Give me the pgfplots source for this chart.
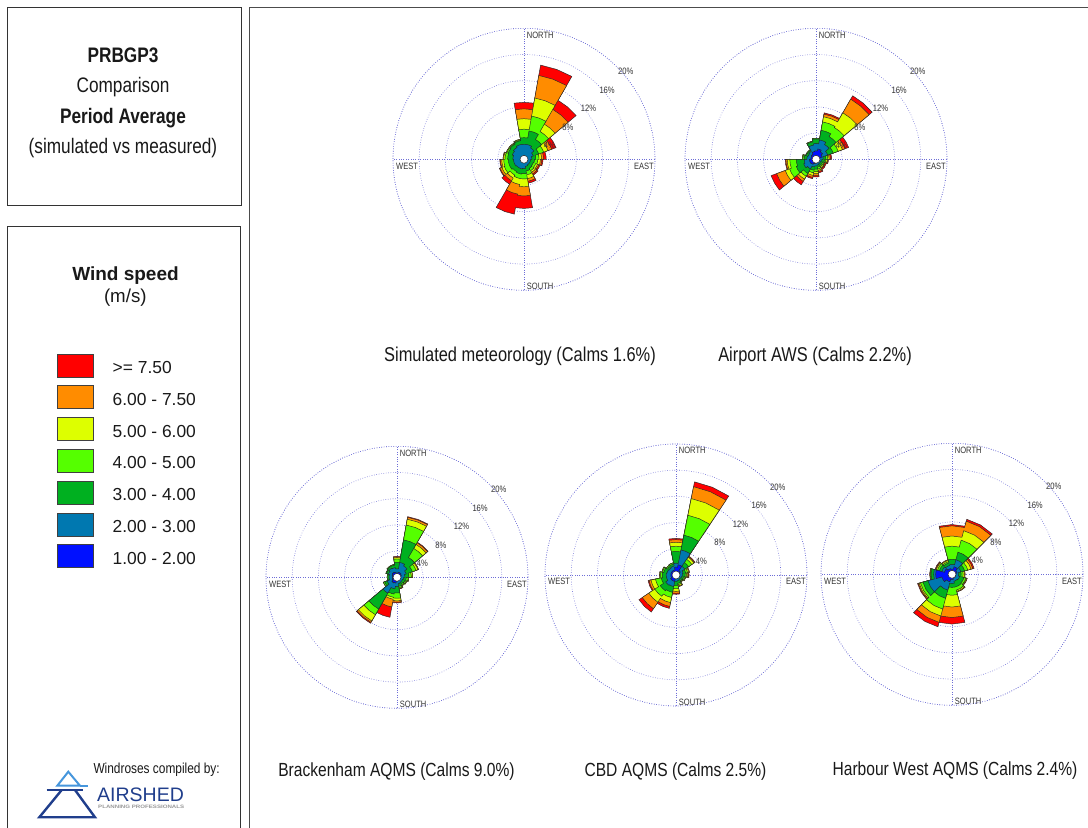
\documentclass[border=0pt]{standalone}
\usepackage{fontspec}
\setmainfont{Liberation Sans}
\newfontfamily\narrow[FakeStretch=0.82]{Liberation Sans}
\usepackage{pgfplots}
\pgfplotsset{compat=1.18}
\usepackage{pgfplotstable}
\usepgfplotslibrary{polar}

\definecolor{cR}{RGB}{255,0,0}
\definecolor{cO}{RGB}{255,140,0}
\definecolor{cY}{RGB}{221,255,0}
\definecolor{cL}{RGB}{85,255,0}
\definecolor{cG}{RGB}{0,176,32}
\definecolor{cT}{RGB}{0,120,176}
\definecolor{cB}{RGB}{0,16,255}
\definecolor{ringc}{RGB}{110,110,215}
\definecolor{txt}{RGB}{25,25,25}
\definecolor{airblue}{RGB}{32,62,140}
\definecolor{airlight}{RGB}{70,150,220}

% cumulative frequency (%) up to each speed class: b1 = 1-2 m/s ... b7 = all (>= 7.5)
\pgfplotstableread{
dir b1 b2 b3 b4 b5 b6 b7
0   0.4 2.3 3.3 4.6 6.2 7.7 8.7
20  0.4 2.3 4.4 6.7 9.5 13.0 14.6
40  0.4 2.0 3.5 4.9 6.2 8.8 10.4
60  0.4 1.5 2.4 3.2 3.9 4.5 5.2
80  0.4 1.2 1.8 2.3 2.7 3.0 3.4
100 0.4 1.0 1.6 2.1 2.5 2.7 2.9
120 0.4 1.0 1.5 1.9 2.2 2.4 2.6
140 0.4 1.0 1.6 2.0 2.3 2.6 2.8
160 0.4 1.1 1.8 2.4 3.0 3.4 3.7
180 0.4 1.4 2.2 3.0 4.2 5.6 7.5
200 0.4 1.5 2.3 3.0 3.9 5.4 8.5
220 0.4 1.5 2.2 2.8 3.3 3.8 4.4
240 0.4 1.6 2.4 3.2 3.6 3.9 4.0
260 0.4 1.6 2.4 3.1 3.4 3.6 3.7
280 0.4 1.7 2.5 2.9 3.1 3.2 3.2
300 0.4 1.9 2.6 2.8 2.9 2.9 2.9
320 0.4 2.1 2.7 2.8 2.9 2.9 2.9
340 0.4 2.3 2.9 3.0 3.1 3.1 3.1
}\roseA

\pgfplotstableread{
dir b1 b2 b3 b4 b5 b6 b7
0   1.3 2.4 3.1 3.2 3.2 3.2 3.2
20  1.6 3.0 4.5 5.8 6.6 7.0 7.2
40  1.3 2.6 4.0 5.6 8.2 10.6 11.2
60  1.0 1.9 2.8 3.6 4.3 4.7 5.3
80  0.6 1.1 1.5 1.8 2.0 2.2 2.4
100 0.5 0.9 1.3 1.5 1.7 1.8 1.9
120 0.5 0.8 1.1 1.3 1.4 1.5 1.7
140 0.5 0.8 1.1 1.3 1.5 1.6 1.8
160 0.5 0.9 1.2 1.5 1.7 1.9 2.1
180 0.6 1.0 1.5 1.9 2.2 2.5 2.7
200 0.7 1.2 1.7 2.1 2.5 2.8 3.0
220 0.9 1.7 2.5 3.0 3.5 3.9 4.5
240 1.0 2.0 3.2 4.3 5.0 6.4 7.3
260 1.0 1.8 3.0 4.0 4.4 4.6 4.7
280 0.8 1.4 1.8 2.0 2.1 2.1 2.1
300 0.8 1.3 1.6 1.7 1.7 1.7 1.7
320 0.9 1.4 1.6 1.7 1.7 1.7 1.7
340 1.2 2.2 2.7 2.8 2.8 2.8 2.8
}\roseB

\pgfplotstableread{
dir b1 b2 b3 b4 b5 b6 b7
0   0.6 1.3 2.3 2.8 3.0 3.1 3.2
20  0.8 2.3 5.8 8.1 9.0 9.3 9.4
40  0.8 2.0 3.5 5.1 5.8 6.1 6.2
60  0.7 1.5 2.5 3.1 3.4 3.5 3.5
80  0.6 1.2 1.8 2.2 2.4 2.4 2.4
100 0.5 1.0 1.4 1.7 1.8 1.8 1.8
120 0.5 0.9 1.3 1.5 1.6 1.6 1.6
140 0.5 0.9 1.2 1.4 1.5 1.5 1.5
160 0.5 1.0 1.4 1.6 1.7 1.8 1.8
180 0.6 1.4 2.4 3.2 3.6 3.8 3.9
200 0.9 1.8 2.6 3.1 3.4 4.6 6.2
220 1.0 2.8 5.6 6.6 7.7 7.95 8.1
240 0.8 1.6 2.0 2.2 2.2 2.2 2.2
260 0.7 1.2 1.4 1.5 1.5 1.5 1.5
280 0.7 1.2 1.4 1.5 1.5 1.5 1.5
300 0.8 1.4 1.7 1.8 1.8 1.8 1.8
320 0.9 1.6 1.9 2.0 2.0 2.0 2.0
340 0.8 1.5 1.9 2.0 2.0 2.0 2.0
}\roseC

\pgfplotstableread{
dir b1 b2 b3 b4 b5 b6 b7
0     1.2 1.8 3.6 4.4 5.0 5.4 5.6
22.5  1.6 3.9 6.2 9.3 11.9 13.75 14.5
45    0.8 1.6 2.3 2.9 3.3 3.4 3.5
67.5  0.6 1.1 1.5 1.8 2.0 2.1 2.1
90    0.5 1.0 1.4 1.6 1.8 1.9 2.0
112.5 0.5 0.9 1.2 1.4 1.5 1.5 1.5
135   0.5 0.8 1.1 1.2 1.3 1.3 1.3
157.5 0.5 0.9 1.3 1.5 1.7 1.8 1.8
180   0.5 1.0 1.6 2.1 2.5 2.8 2.95
202.5 1.0 1.8 2.7 3.5 4.3 4.9 5.2
225   1.0 1.9 2.9 3.9 5.0 6.2 6.8
247.5 0.8 1.5 2.3 3.2 3.9 4.2 4.35
270   0.8 1.5 2.1 2.4 2.5 2.5 2.5
292.5 0.8 1.4 1.9 2.1 2.2 2.2 2.2
315   0.8 1.3 1.6 1.8 1.8 1.8 1.8
337.5 0.8 1.4 1.7 1.9 1.9 1.9 1.9
}\roseD

\pgfplotstableread{
dir b1 b2 b3 b4 b5 b6 b7
0   0.8 1.5 2.3 4.3 5.85 7.4 7.6
30  1.2 2.3 3.5 5.4 6.9 8.4 8.7
60  0.8 1.4 2.0 2.5 3.0 3.3 3.5
90  0.6 1.0 1.4 1.7 1.9 2.0 2.0
120 0.6 1.2 1.9 2.2 2.3 2.4 2.4
150 0.6 1.1 2.0 2.5 2.7 2.8 2.8
180 0.8 1.4 2.0 3.2 5.0 6.6 7.6
210 1.2 2.5 3.8 5.5 6.6 7.6 8.3
240 1.6 3.8 4.6 5.0 5.2 5.35 5.45
270 2.5 2.8 3.2 3.3 3.35 3.4 3.4
300 1.2 1.6 2.0 2.3 2.5 2.6 2.7
330 0.9 1.4 1.8 2.0 2.2 2.3 2.3
}\roseE

% build the closed outline of one speed class: (angle, radius) at both sector edges
\newcommand\buildpoly[4]{%
  \pgfplotstablegetrowsof{#1}%
  \pgfmathtruncatemacro\lastrow{\pgfplotsretval-1}%
  \gdef\polytmp{}%
  \foreach \i in {0,...,\lastrow}{%
    \pgfplotstablegetelem{\i}{dir}\of{#1}\let\ddir\pgfplotsretval
    \pgfplotstablegetelem{\i}{#2}\of{#1}\let\rad\pgfplotsretval
    \pgfmathsetmacro\angA{mod(450-\ddir+#3/2,360)}%
    \pgfmathsetmacro\angB{mod(450-\ddir,360)}%
    \pgfmathsetmacro\angC{mod(450-\ddir-#3/2,360)}%
    \xdef\polytmp{\polytmp(\angA,\rad)(\angB,\rad)(\angC,\rad)}%
  }%
  \pgfplotstablegetelem{0}{dir}\of{#1}\let\ddir\pgfplotsretval
  \pgfplotstablegetelem{0}{#2}\of{#1}\let\rad\pgfplotsretval
  \pgfmathsetmacro\angA{mod(450-\ddir+#3/2,360)}%
  \expandafter\xdef\csname #4\endcsname{\polytmp(\angA,\rad)}%
}
\newcommand\polyplot[2]{\edef\temp{\noexpand\addplot[draw=black!85, line width=0.45pt, fill=#1] coordinates {\csname #2\endcsname};}\temp}

\pgfplotsset{
  rosestyle/.style={
    scale only axis, width=262pt, height=262pt,
    xmin=0, xmax=360, ymin=0, ymax=20,
    xtick={0,90,180,270}, ytick={4,8,12,16,20},
    xticklabels={}, yticklabels={},
    grid=major,
    major grid style={ringc, dash pattern=on 0.6pt off 1.8pt, line width=0.6pt},
    axis line style={ringc, dash pattern=on 0.6pt off 1.8pt, line width=0.6pt},
    y axis line style={draw=none},
    major tick length=0pt,
    clip=false,
  },
}
\tikzset{
  dirlab/.style={font=\narrow\fontsize{9.2}{10}\selectfont, text=black!80, inner sep=0pt},
  ringlab/.style={font=\narrow\fontsize{9.3}{10}\selectfont, text=black!80, inner sep=1.2pt, anchor=north west},
}

\newcommand\rose[3]{%
\begin{polaraxis}[rosestyle, at={(#2pt,#3pt)}, anchor=center]
  \polyplot{cR}{poly#17}
  \polyplot{cO}{poly#16}
  \polyplot{cY}{poly#15}
  \polyplot{cL}{poly#14}
  \polyplot{cG}{poly#13}
  \polyplot{cT}{poly#12}
  \polyplot{cB}{poly#11}
  \draw[black!85, fill=white, line width=0.5pt] (axis cs:0,0) circle[radius=4pt];
  \node[dirlab, anchor=west, xshift=2.7pt] at (axis cs:90,19) {NORTH};
  \node[dirlab, anchor=west, xshift=2.7pt] at (axis cs:270,19.4) {SOUTH};
  \node[dirlab, anchor=east, yshift=-6.7pt] at (axis cs:0,19.85) {EAST};
  \node[dirlab, anchor=west, yshift=-6.7pt] at (axis cs:180,19.55) {WEST};
  \node[ringlab] at (axis cs:45,4) {4\%};
  \node[ringlab] at (axis cs:45,8) {8\%};
  \node[ringlab] at (axis cs:45,12) {12\%};
  \node[ringlab] at (axis cs:45,16) {16\%};
  \node[ringlab] at (axis cs:45,20) {20\%};
\end{polaraxis}}

\begin{document}
\begin{tikzpicture}[x=1pt,y=1pt]
\useasboundingbox (0,0) rectangle (1088,828);
\fill[white] (0,0) rectangle (1088,828);

\foreach \rs/\w in {A/20,B/20,C/20,D/22.5,E/30}{%
  \foreach \k in {1,...,7}{%
    \edef\tmpcall{\noexpand\buildpoly{\expandafter\noexpand\csname rose\rs\endcsname}{b\k}{\w}{poly\rs\k}}\tmpcall
  }%
}

% frames
\draw[black!80, line width=0.9pt] (7.5,{828-7.5}) rectangle (241.5,{828-205});
\draw[black!80, line width=0.9pt] (7.5,-10) -- (7.5,{828-226}) -- (240,{828-226}) -- (240,-10);
\draw[black!70, line width=1.6pt] (249.5,-10) -- (249.5,{828-7.5}) -- (1100,{828-7.5});

% title
\node[anchor=base, text=txt, font=\narrow\bfseries\fontsize{21}{25}\selectfont] at (123,{828-63}) {PRBGP3};
\node[anchor=base, text=txt, font=\narrow\fontsize{21}{25}\selectfont] at (123,{828-93}) {Comparison};
\node[anchor=base, text=txt, font=\narrow\bfseries\fontsize{21}{25}\selectfont] at (123,{828-124}) {Period Average};
\node[anchor=base, text=txt, font=\narrow\fontsize{21}{25}\selectfont] at (123,{828-154}) {(simulated vs measured)};

% legend
\node[anchor=base, text=txt, font=\bfseries\fontsize{19}{22}\selectfont] at (125.5,{828-280.7}) {Wind speed};
\node[anchor=base, text=txt, font=\fontsize{18.7}{22}\selectfont] at (125.3,{828-303}) {(m/s)};
\foreach \c/\t [count=\n from 0] in {cR/{>= 7.50},cO/{6.00 - 7.50},cY/{5.00 - 6.00},cL/{4.00 - 5.00},cG/{3.00 - 4.00},cT/{2.00 - 3.00},cB/{1.00 - 2.00}}{
  \pgfmathsetmacro\ytop{828-354-31.8*\n}
  \filldraw[fill=\c, draw=black!75, line width=0.8pt] (57.5,\ytop) rectangle (93.5,\ytop-23);
  \node[anchor=base west, inner sep=0pt, text=txt, font=\fontsize{17.4}{20}\selectfont] at (112.5,\ytop-19.5) {\t};
}

% logo
\node[anchor=base west, inner sep=0pt, text=txt, font=\narrow\fontsize{14.5}{16}\selectfont] at (93.3,{828-773.3}) {Windroses compiled by:};
\draw[airlight, line width=2pt, line join=miter] (57.3,{828-785.7}) -- (68.3,{828-771.7}) -- (80,{828-785.7}) -- cycle;
\draw[airlight, line width=2pt] (80,{828-785.7}) -- (88.3,{828-785.7});
\draw[airblue, line width=2.4pt] (46.7,{828-790}) -- (82.7,{828-790});
\draw[airblue, line width=2.4pt, line join=miter] (61.7,{828-790}) -- (39.3,{828-817.3}) -- (95,{828-817.3}) -- (75,{828-790});
\node[anchor=base west, inner sep=0pt, text=airblue, font=\fontsize{19.5}{22}\selectfont] at (97,{828-801}) {AIRSHED};
\node[anchor=base west, inner sep=0pt, text=black!40] at (98,{828-808.3}) {\resizebox{86pt}{3.4pt}{\bfseries PLANNING PROFESSIONALS}};

% roses
\rose{A}{524}{668.7}
\rose{B}{816}{668.7}
\rose{C}{397}{250.7}
\rose{D}{676}{253}
\rose{E}{952}{253.7}

% captions
\begin{scope}[every node/.style={anchor=base, text=txt, font=\narrow\fontsize{20}{24}\selectfont}]
\node at (520,{828-361.7}) {Simulated meteorology (Calms 1.6\%)};
\node at (815,{828-361.7}) {Airport AWS (Calms 2.2\%)};
\end{scope}
\begin{scope}[every node/.style={anchor=base, text=txt, font=\narrow\fontsize{19}{23}\selectfont}]
\node at (396.5,{828-776.7}) {Brackenham AQMS (Calms 9.0\%)};
\node at (675.5,{828-777}) {CBD AQMS (Calms 2.5\%)};
\node at (955,{828-776}) {Harbour West AQMS (Calms 2.4\%)};
\end{scope}
\end{tikzpicture}
\end{document}
